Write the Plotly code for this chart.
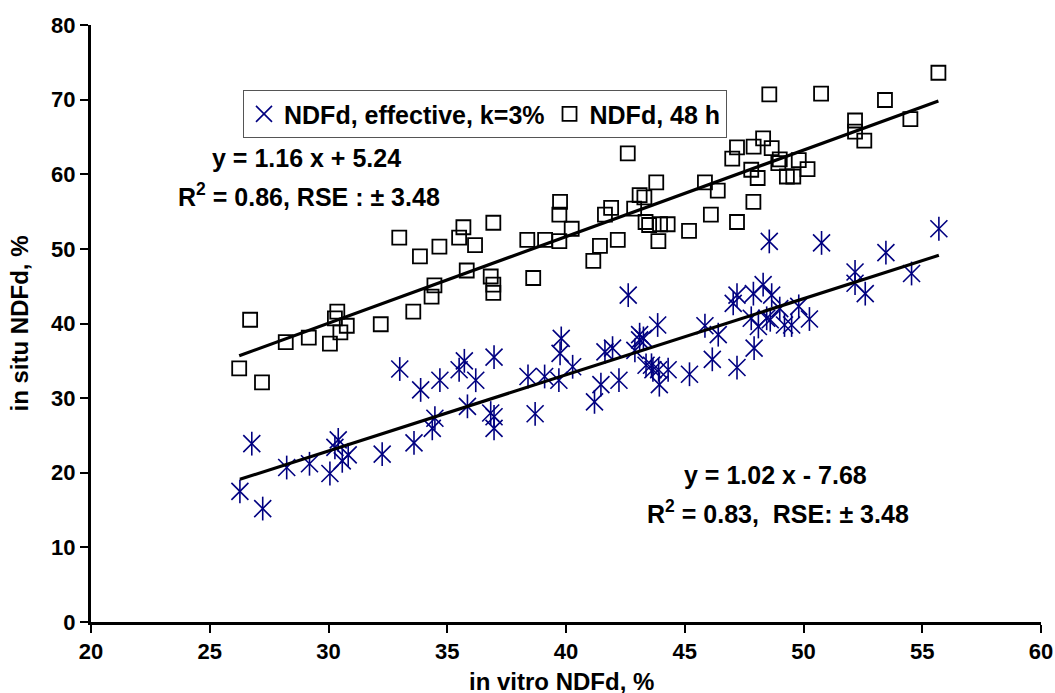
import numpy as np
import plotly.graph_objects as go

# NDFd, effective, k=3%  (stars)
eff_x = [26.27, 27.23, 26.77, 28.24, 29.2, 30.06, 30.41, 30.27, 30.58, 30.83,
         32.26, 33.6, 34.37, 34.48, 33.0, 33.88, 34.69, 35.5, 35.72, 36.2,
         35.85, 36.97, 36.83, 36.97, 36.97, 38.4, 39.1, 39.7, 39.8, 39.75,
         40.28, 38.7, 41.2, 41.47, 42.23, 41.64, 41.96, 42.62, 42.9, 43.1,
         43.26, 43.86, 43.37, 43.6, 43.66, 43.9, 44.3, 43.93, 45.2, 46.16,
         45.85, 46.41, 47.2, 47.92, 47.04, 47.2, 47.89, 48.3, 48.66, 48.56,
         47.8, 48.1, 48.45, 49.0, 49.8, 49.2, 49.5, 50.25, 50.76, 52.17,
         52.17, 52.6, 53.47, 54.55, 55.7, 43.1, 48.6]
eff_y = [17.5, 15.2, 23.9, 20.7, 21.2, 19.9, 24.4, 23.4, 21.6, 22.4,
         22.5, 24.0, 25.95, 27.3, 33.9, 31.1, 32.4, 33.8, 35.0, 32.4,
         28.9, 35.5, 28.0, 27.5, 25.95, 32.9, 32.9, 32.4, 38.0, 36.0,
         34.2, 27.9, 29.5, 31.8, 32.4, 36.2, 36.7, 43.8, 36.4, 38.5,
         38.0, 39.8, 34.4, 34.4, 33.8, 33.8, 33.8, 31.8, 33.2, 35.2,
         39.7, 38.5, 34.1, 36.7, 42.7, 43.8, 44.0, 45.2, 43.8, 51.0,
         40.7, 39.6, 40.7, 42.0, 42.3, 39.8, 39.8, 40.6, 50.8, 46.9,
         45.4, 44.0, 49.5, 46.7, 52.7, 37.8, 40.5]

# NDFd, 48 h  (squares)
h48_x = [26.24, 27.2, 26.7, 28.2, 29.17, 30.06, 30.5, 30.77, 30.37, 30.27,
         32.2, 33.57, 34.34, 34.46, 32.98, 33.85, 34.67, 35.5, 35.68, 36.17,
         35.82, 36.94, 36.83, 36.94, 36.94, 38.37, 39.12, 39.75, 39.72, 39.72,
         40.24, 38.62, 41.15, 41.43, 42.18, 41.64, 41.9, 42.6, 43.1, 43.3,
         42.87, 43.8, 43.35, 43.5, 43.96, 44.28, 43.89, 45.18, 46.1, 45.85,
         46.39, 47.2, 47.89, 47.0, 47.2, 47.9, 48.3, 48.66, 48.56, 47.8,
         48.07, 48.94, 49.3, 49.57, 49.8, 50.17, 50.74, 52.17, 52.17, 52.56,
         53.43, 54.5, 55.68, 49.0]
h48_y = [34.0, 32.1, 40.5, 37.5, 38.1, 37.3, 38.8, 39.7, 41.6, 40.7,
         39.9, 41.6, 43.6, 45.1, 51.5, 49.0, 50.3, 51.5, 52.9, 50.5,
         47.1, 53.5, 46.3, 45.2, 44.1, 51.2, 51.2, 56.3, 54.6, 51.05,
         52.7, 46.1, 48.4, 50.4, 51.2, 54.6, 55.5, 62.8, 57.2, 56.9,
         55.4, 58.9, 53.6, 53.2, 53.3, 53.3, 51.05, 52.4, 54.6, 58.9,
         57.8, 53.6, 56.3, 62.1, 63.6, 63.7, 64.8, 63.5, 70.7, 60.6,
         59.5, 61.5, 59.7, 59.7, 61.9, 60.7, 70.8, 67.2, 65.7, 64.5,
         69.95, 67.4, 73.6, 62.0]

# regression coefficients (slope, intercept) from the chart labels
eff_fit = [1.02, -7.68]
h48_fit = [1.16, 5.24]

x_ticks = [20, 25, 30, 35, 40, 45, 50, 55, 60]
y_ticks = [0, 10, 20, 30, 40, 50, 60, 70, 80]

navy = "#000080"
font_family = "Liberation Sans, Arial, sans-serif"

fig = go.Figure()

fig.add_trace(go.Scatter(
    x=eff_x, y=eff_y, mode="markers", name="<b>NDFd, effective, k=3%</b>",
    marker=dict(symbol="x-thin-open", size=17, color=navy,
                line=dict(color=navy, width=1.6)),
))
fig.add_trace(go.Scatter(
    x=eff_x, y=eff_y, mode="markers", showlegend=False, hoverinfo="skip",
    marker=dict(symbol="line-ns-open", size=17, color=navy,
                line=dict(color=navy, width=1.6)),
))
fig.add_trace(go.Scatter(
    x=h48_x, y=h48_y, mode="markers", name="<b>NDFd, 48 h</b>",
    marker=dict(symbol="square-open", size=14, color="black",
                line=dict(color="black", width=1.8)),
))

for xs, coef in ((h48_x, h48_fit), (eff_x, eff_fit)):
    lx = np.array([min(xs), max(xs)])
    fig.add_trace(go.Scatter(
        x=lx, y=coef[0] * lx + coef[1], mode="lines", showlegend=False,
        hoverinfo="skip", line=dict(color="black", width=3.2),
    ))

ann_font = dict(family=font_family, size=25, color="black")
annotations = [
    dict(x=33.14, y=62.2, text="<b>y = 1.16 x + 5.24</b>"),
    dict(x=34.78, y=57.2, text="<b>R<sup>2</sup> = 0.86, RSE : \u00b1 3.48</b>"),
    dict(x=52.76, y=19.7, text="<b>y = 1.02 x - 7.68</b>"),
    dict(x=54.53, y=14.8, text="<b>R<sup>2</sup> = 0.83, \u00a0RSE: \u00b1 3.48</b>"),
]
for a in annotations:
    fig.add_annotation(xref="x", yref="y", showarrow=False, font=ann_font,
                       xanchor="right", yanchor="middle", **a)

# x-axis title placed as a paper annotation so it can sit low like the original
fig.add_annotation(xref="paper", yref="paper", x=0.495, y=-0.099,
                   showarrow=False, xanchor="center", yanchor="middle",
                   text="<b>in vitro NDFd, %</b>",
                   font=dict(family=font_family, size=24, color="black"))

axis_common = dict(
    showline=True, linecolor="black", linewidth=3,
    ticks="outside", ticklen=8, tickwidth=2, tickcolor="black",
    showgrid=False, zeroline=False, mirror=False, automargin=False,
    tickfont=dict(family=font_family, size=22, color="black"),
)

fig.update_layout(
    width=1055, height=693,
    margin=dict(l=91, r=14, t=25, b=71),
    paper_bgcolor="white", plot_bgcolor="white",
    font=dict(family=font_family, color="black"),
    xaxis=dict(range=[20, 60], tickmode="array", tickvals=x_ticks,
               ticktext=[f"<b>{v}</b>" for v in x_ticks],
               **axis_common),
    yaxis=dict(range=[0, 80], tickmode="array", tickvals=y_ticks,
               ticktext=[f"<b>{v}</b>" for v in y_ticks],
               title=dict(text="<b>in situ NDFd, %</b>", standoff=16,
                          font=dict(family=font_family, size=24, color="black")),
               **axis_common),
    legend=dict(orientation="h", x=0.16, y=0.891, xanchor="left", yanchor="top",
                bgcolor="white", bordercolor="#555555", borderwidth=1,
                font=dict(family=font_family, size=25, color="black"),
                itemwidth=30, tracegroupgap=0),
    showlegend=True,
)

fig.write_html(
    "out.html",
    config={"displayModeBar": False},
    post_script="document.body.style.margin='0';document.body.style.overflow='hidden';",
)
